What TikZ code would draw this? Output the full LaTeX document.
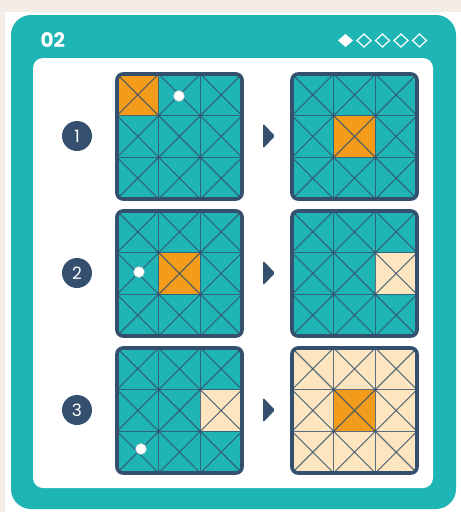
\documentclass[tikz,border=0pt]{standalone}
\usepackage{fontspec}
\setmainfont{Poppins}
\usetikzlibrary{positioning}
\definecolor{pagebeige}{RGB}{244,236,230}
\definecolor{cardteal}{RGB}{31,181,180}
\definecolor{navy}{RGB}{52,80,110}
\definecolor{tileorange}{RGB}{243,155,27}
\definecolor{tilecream}{RGB}{253,229,191}
\tikzset{
  gridline/.style={navy,line width=1.1pt,opacity=0.8},
  boardedge/.style={navy,line width=3.6pt,rounded corners=6pt},
  numdot/.style={circle,fill=navy,text=white,minimum size=30pt,inner sep=0pt,
    font=\fontsize{17}{17}\selectfont},
  marker/.style={circle,fill=white,draw=navy!40,line width=0.4pt,minimum size=11pt,inner sep=0pt}
}
% board: x, y (top left), base colour, list of col/row/colour
\newcommand{\board}[4]{%
  \begin{scope}
    \clip[rounded corners=6pt] (#1,#2) rectangle ++(125,125);
    \fill[#3] (#1,#2) rectangle ++(125,125);
    \foreach \cc/\rr/\col in {#4}
      \fill[\col] (#1+\cc*41.667,#2+\rr*41.667) rectangle ++(41.667,41.667);
    \foreach \i in {1,2}{
      \draw[gridline] (#1+\i*41.667,#2) -- ++(0,125);
      \draw[gridline] (#1,#2+\i*41.667) -- ++(125,0);
    }
    \foreach \cc in {0,1,2}
      \foreach \rr in {0,1,2}{
        \draw[gridline] (#1+\cc*41.667,#2+\rr*41.667) -- ++(41.667,41.667);
        \draw[gridline] (#1+\cc*41.667+41.667,#2+\rr*41.667) -- ++(-41.667,41.667);
      }
  \end{scope}
  \draw[boardedge] (#1,#2) rectangle ++(125,125);
}
\newcommand{\nextarrow}[1]{%
  \fill[navy,rounded corners=1.5pt] (263,#1-12.5) -- (275,#1) -- (263,#1+12.5) -- cycle;
}

\begin{document}
\begin{tikzpicture}[x=1pt,y=-1pt]
  \useasboundingbox (0,0) rectangle (461,512);

  % page and card
  \fill[pagebeige] (0,0) rectangle (461,512);
  \fill[white] (5,12) rectangle (461,512);
  \fill[cardteal,rounded corners=20pt] (11,15) rectangle (456,509);
  \fill[white,rounded corners=10pt] (33,58) rectangle (433,488);

  % header
  \node[anchor=west,text=white,font=\bfseries\fontsize{20}{20}\selectfont] (title) at (37,40.5) {02};
  \fill[white] (345.5,34) -- (353,40.5) -- (345.5,47) -- (338,40.5) -- cycle;
  \foreach \dx in {364,382.5,401,419.5}
    \draw[white,line width=1.2pt] (\dx,34) -- (\dx+7,40.5) -- (\dx,47) -- (\dx-7,40.5) -- cycle;

  % row 1
  \node[numdot] (num1) at (77,136) {1};
  \board{117}{74}{cardteal}{0/0/tileorange}
  \nextarrow{136}
  \board{292}{74}{cardteal}{1/1/tileorange}
  \node[marker] (dot1) at (179,96) {};

  % row 2
  \node[numdot] (num2) at (77,273) {2};
  \board{117}{211}{cardteal}{1/1/tileorange}
  \nextarrow{273}
  \board{292}{211}{cardteal}{2/1/tilecream}
  \node[marker] (dot2) at (139,272) {};

  % row 3
  \node[numdot] (num3) at (77,410) {3};
  \board{117}{348}{cardteal}{2/1/tilecream}
  \nextarrow{410}
  \board{292}{348}{tilecream}{1/1/tileorange}
  \node[marker] (dot3) at (141,449) {};

\end{tikzpicture}
\end{document}
